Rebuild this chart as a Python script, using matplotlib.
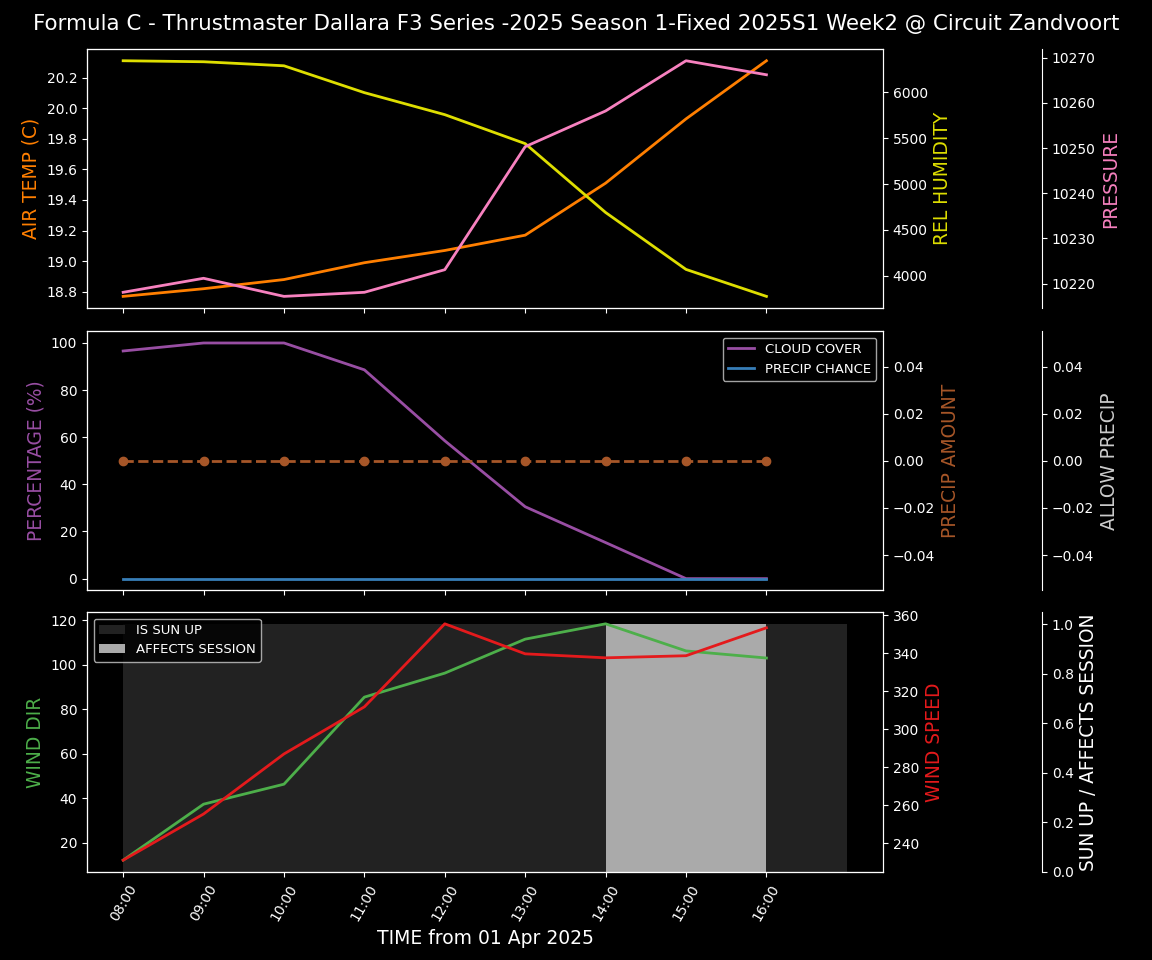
import matplotlib
matplotlib.use('Agg')
import matplotlib.pyplot as plt
import matplotlib.dates as mdates
import pandas as pd

plt.style.use('dark_background')

times = pd.date_range('2025-04-01 08:00', periods=9, freq='h')

air_temp = [18.77, 18.82, 18.88, 18.99, 19.07, 19.17, 19.51, 19.93, 20.31]
rel_humidity = [6345, 6334, 6290, 5997, 5757, 5441, 4690, 4069, 3775]
pressure = [10218.1, 10221.2, 10217.2, 10218.1, 10223.1, 10250.3, 10258.2, 10269.3, 10266.2]

cloud_cover = [96.6, 100, 100, 88.6, 58.5, 30.5, 15.3, 0, 0]
precip_chance = [0, 0, 0, 0, 0, 0, 0, 0, 0]
precip_amount = [0, 0, 0, 0, 0, 0, 0, 0, 0]
allow_precip = [0, 0, 0, 0, 0, 0, 0, 0, 0]

wind_dir = [12.1, 37.3, 46.3, 85.5, 96.3, 111.6, 118.5, 106.3, 103.1]
wind_speed = [231.2, 255.5, 287.1, 311.9, 355.6, 339.8, 337.7, 338.8, 353.5]
sun_up = [1, 1, 1, 1, 1, 1, 1, 1, 1]
affects_session = [0, 0, 0, 0, 0, 0, 1, 1, 0]

title = 'Formula C - Thrustmaster Dallara F3 Series -2025 Season 1-Fixed 2025S1 Week2 @ Circuit Zandvoort'

fig = plt.figure(figsize=(11.52, 9.6), dpi=100)
left, width = 0.0755, 0.691
ax1 = fig.add_axes([left, 0.679, width, 0.270])
ax2 = fig.add_axes([left, 0.385, width, 0.270], sharex=ax1)
ax3 = fig.add_axes([left, 0.0917, width, 0.2708], sharex=ax1)

fig.suptitle(title, fontsize=15.4, y=0.985)
lab_fs = 13.4

# top panel
ax1.plot(times, air_temp, color='#ff7f00', lw=2)
ax1.set_ylabel('AIR TEMP (C)', color='#ff7f00', fontsize=lab_fs)
ax1b = ax1.twinx()
ax1b.plot(times, rel_humidity, color='#dede00', lw=2)
ax1b.set_ylabel('REL HUMIDITY', color='#dede00', fontsize=lab_fs)
ax1c = ax1.twinx()
ax1c.spines['right'].set_position(('axes', 1.2))
ax1c.plot(times, pressure, color='#f781bf', lw=2)
ax1c.set_ylabel('PRESSURE', color='#f781bf', fontsize=lab_fs)

# middle panel
ax2.plot(times, cloud_cover, color='#984ea3', lw=2, label='CLOUD COVER')
ax2.plot(times, precip_chance, color='#377eb8', lw=2, label='PRECIP CHANCE')
ax2.set_ylabel('PERCENTAGE (%)', color='#984ea3', fontsize=lab_fs)
ax2.legend(loc='upper right', fontsize=9.5)
ax2b = ax2.twinx()
ax2b.plot(times, precip_amount, color='#a65628', lw=2, ls='--', marker='o')
ax2b.set_ylabel('PRECIP AMOUNT', color='#a65628', fontsize=lab_fs)
ax2c = ax2.twinx()
ax2c.spines['right'].set_position(('axes', 1.2))
ax2c.plot(times, allow_precip, color='#cccccc', lw=0)
ax2c.set_ylabel('ALLOW PRECIP', color='#cccccc', fontsize=lab_fs)

# bottom panel
ax3c = ax3.twinx()
ax3c.spines['right'].set_position(('axes', 1.2))
w = 1 / 24
ax3c.bar(times, sun_up, width=w, align='edge', color='#222222', label='IS SUN UP')
ax3c.bar(times, affects_session, width=w, align='edge', color='#aaaaaa', label='AFFECTS SESSION')
ax3c.set_ylabel('SUN UP / AFFECTS SESSION', color='white', fontsize=lab_fs)

ax3.plot(times, wind_dir, color='#4daf4a', lw=2)
ax3.set_ylabel('WIND DIR', color='#4daf4a', fontsize=lab_fs)
ax3b = ax3.twinx()
ax3b.plot(times, wind_speed, color='#e41a1c', lw=2)
ax3b.set_ylabel('WIND SPEED', color='#e41a1c', fontsize=lab_fs)

ax3c.set_zorder(0)
ax3.set_zorder(1)
ax3b.set_zorder(2)
ax3.patch.set_visible(False)
ax3b.patch.set_visible(False)
h, l = ax3c.get_legend_handles_labels()
ax3b.legend(h, l, loc='upper left', fontsize=9.5)

ax3.set_xticks(times)
ax3.xaxis.set_major_formatter(mdates.DateFormatter('%H:%M'))
for lab in ax3.get_xticklabels():
    lab.set_rotation(60)
plt.setp(ax1.get_xticklabels(), visible=False)
plt.setp(ax2.get_xticklabels(), visible=False)
ax3.set_xlabel('TIME from 01 Apr 2025', fontsize=13.5)

fig.savefig('out.png', dpi=100, facecolor='black')
